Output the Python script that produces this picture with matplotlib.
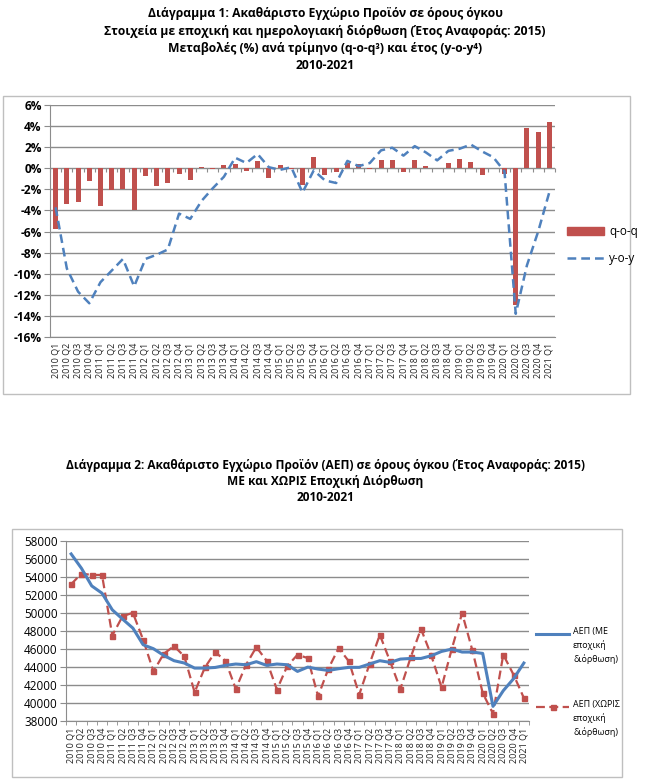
import matplotlib
matplotlib.use("Agg")
import matplotlib.pyplot as plt
from matplotlib.patches import Rectangle
from matplotlib.lines import Line2D
import numpy as np

plt.rcParams['font.family'] = ['Open Sans', 'DejaVu Sans']

years = list(range(2010, 2022))
quarters = [f"{y} Q{q}" for y in years for q in range(1, 5)][:45]

qoq = [-5.8, -3.35, -3.2, -1.2, -3.6, -2.1, -2.0, -4.0, -0.7, -1.7, -1.4, -0.55,
       -1.15, 0.1, -0.05, 0.35, 0.45, -0.25, 0.7, -0.9, 0.3, -0.05, -1.6, 1.1,
       -0.6, -0.35, 0.5, 0.45, -0.1, 0.8, 0.8, -0.35, 0.75, 0.2, 0.05, 0.5,
       0.9, 0.6, -0.6, 0.0, -0.5, -13.0, 3.8, 3.4, 4.4]
yoy = [-3.7, -9.5, -11.7, -12.8, -10.8, -9.7, -8.6, -11.2, -8.6, -8.2, -7.7, -4.3,
       -4.8, -3.1, -1.9, -0.8, 1.0, 0.5, 1.35, 0.1, -0.15, 0.1, -2.3, -0.2,
       -1.15, -1.4, 0.7, 0.2, 0.5, 1.7, 1.95, 1.2, 2.1, 1.5, 0.75, 1.65,
       1.85, 2.25, 1.6, 1.05, -0.3, -13.8, -9.2, -6.0, -2.25]

gdp_sa = [56560, 54970, 53010, 52200, 50350, 49320, 48320, 46470, 46030, 45290,
          44700, 44440, 43880, 43880, 43950, 44180, 44330, 44250, 44590, 44180,
          44330, 44250, 43510, 43990, 43770, 43620, 43810, 43960, 43960, 44330,
          44700, 44510, 44880, 44950, 44950, 45250, 45730, 45990, 45660, 45660,
          45510, 39630, 41370, 42700, 44440]
gdp_nsa = [53200, 54380, 54230, 54230, 47500, 49650, 50020, 47020, 43510, 45470,
           46320, 45180, 41190, 43950, 45650, 44700, 41560, 44250, 46210, 44700,
           41480, 44100, 45360, 44990, 40740, 43810, 46100, 44620, 40930, 44330,
           47580, 44620, 41550, 45070, 48240, 45290, 41740, 46030, 49980, 45840,
           41110, 38820, 45360, 43140, 40560]

RED = '#C0504D'
BLUE = '#4F81BD'
GRID = '#8C8C8C'
W, H = 650, 780

fig = plt.figure(figsize=(6.5, 7.8), dpi=100)

def fx(px):
    return px / W

def fy(py):
    return 1 - py / H

# outer boxes
fig.patches.append(Rectangle((fx(3), fy(394)), fx(627), (394 - 96) / H, transform=fig.transFigure,
                             fill=False, edgecolor='#BFBFBF', lw=1))
fig.patches.append(Rectangle((fx(12), fy(777)), fx(610), (777 - 529) / H, transform=fig.transFigure,
                             fill=False, edgecolor='#BFBFBF', lw=1))

# titles chart 1
t1 = ["Διάγραμμα 1: Ακαθάριστο Εγχώριο Προϊόν σε όρους όγκου",
      "Στοιχεία με εποχική και ημερολογιακή διόρθωση (Έτος Αναφοράς: 2015)",
      "Μεταβολές (%) ανά τρίμηνο (q-o-q³) και έτος (y-o-y⁴)",
      "2010-2021"]
for i, s in enumerate(t1):
    fig.text(fx(325), fy(14 + 17.3 * i), s, ha='center', va='center', fontsize=8.7, fontweight='bold')

t2 = ["Διάγραμμα 2: Ακαθάριστο Εγχώριο Προϊόν (ΑΕΠ) σε όρους όγκου (Έτος Αναφοράς: 2015)",
      "ΜΕ και ΧΩΡΙΣ Εποχική Διόρθωση",
      "2010-2021"]
for i, s in enumerate(t2):
    fig.text(fx(325), fy(466 + 16 * i), s, ha='center', va='center', fontsize=8.6, fontweight='bold')

x = np.arange(len(quarters))

# ---------------- chart 1 ----------------
ax1 = fig.add_axes([fx(50), fy(337), fx(505), (337 - 105) / H])
ax1.bar(x, qoq, width=0.45, color=RED, zorder=3, label='q-o-q')
ax1.plot(x, yoy, color=BLUE, lw=1.8, ls=(0, (3.5, 2)), zorder=4, label='y-o-y')
ax1.set_xlim(-0.5, len(x) - 0.5)
ax1.set_ylim(-16, 6)
ax1.set_yticks(np.arange(-16, 7, 2))
ax1.set_yticklabels([f"{v}%" for v in range(-16, 7, 2)], fontsize=8.6, fontweight='bold')
ax1.yaxis.grid(True, color=GRID, lw=1)
ax1.set_axisbelow(True)
for s in ['top', 'right']:
    ax1.spines[s].set_visible(False)
ax1.spines['left'].set_color(GRID)
ax1.spines['bottom'].set_color(GRID)
ax1.tick_params(axis='y', length=4, color=GRID, pad=2)
ax1.set_xticks(x)
ax1.set_xticklabels(quarters, rotation=90, fontsize=6.5, color='#222222')
ax1.tick_params(axis='x', length=0, pad=4)
sec = ax1.secondary_xaxis(16 / 22)
sec.set_xticks(np.arange(-0.5, len(x), 1))
sec.set_xticklabels([])
sec.tick_params(axis='x', direction='out', length=3, color=GRID, width=0.8)
sec.spines['bottom'].set_color(GRID)
sec.spines['top'].set_visible(False)
sec.xaxis.set_ticks_position('bottom')

fig.legend(handles=[Rectangle((0, 0), 1, 1, color=RED),
                    Line2D([], [], color=BLUE, lw=1.8, ls=(0, (3.5, 2)))],
           labels=['q-o-q', 'y-o-y'], loc='center left',
           bbox_to_anchor=(fx(556), fy(245)), frameon=False, fontsize=8.5,
           handlelength=3.2, handleheight=0.6, labelspacing=1.15, handletextpad=0.4)

# ---------------- chart 2 ----------------
ax2 = fig.add_axes([fx(66), fy(721), fx(463), (721 - 541) / H])
ax2.plot(x, gdp_sa, color=BLUE, lw=2.2, zorder=4)
ax2.plot(x, gdp_nsa, color=RED, lw=1.6, ls=(0, (4, 2)), marker='s', ms=3.6, zorder=3)
ax2.set_xlim(-0.5, len(x) - 0.5)
ax2.set_ylim(38000, 58000)
ax2.set_yticks(np.arange(38000, 58001, 2000))
ax2.set_yticklabels([str(v) for v in range(38000, 58001, 2000)], fontsize=8.4)
ax2.yaxis.grid(True, color=GRID, lw=1)
ax2.set_axisbelow(True)
for s in ['top', 'right']:
    ax2.spines[s].set_visible(False)
ax2.spines['left'].set_color(GRID)
ax2.spines['bottom'].set_color(GRID)
ax2.tick_params(axis='y', length=4, color=GRID, pad=2)
ax2.set_xticks(x)
ax2.set_xticklabels(quarters, rotation=90, fontsize=6.5, color='#222222')
ax2.tick_params(axis='x', which='major', length=0, pad=5)
ax2.set_xticks(np.arange(-0.5, len(x), 1), minor=True)
ax2.tick_params(axis='x', which='minor', length=3, color=GRID)

# manual legend for chart 2 (handle aligned with first text line)
fig.lines.append(Line2D([fx(536), fx(569)], [fy(634), fy(634)], transform=fig.transFigure,
                        color=BLUE, lw=2.2))
fig.text(fx(573), fy(627), "ΑΕΠ (ΜΕ\nεποχική\nδιόρθωση)", ha='left', va='top',
         fontsize=6.4, linespacing=1.55)
fig.lines.append(Line2D([fx(536), fx(569)], [fy(707), fy(707)], transform=fig.transFigure,
                        color=RED, lw=1.6, ls=(0, (4, 2))))
fig.lines.append(Line2D([fx(552.5)], [fy(707)], transform=fig.transFigure,
                        color=RED, marker='s', ms=3.6, ls='none'))
fig.text(fx(573), fy(700), "ΑΕΠ (ΧΩΡΙΣ\nεποχική\nδιόρθωση)", ha='left', va='top',
         fontsize=6.4, linespacing=1.55)

fig.savefig('out.png', dpi=100, facecolor='white')
